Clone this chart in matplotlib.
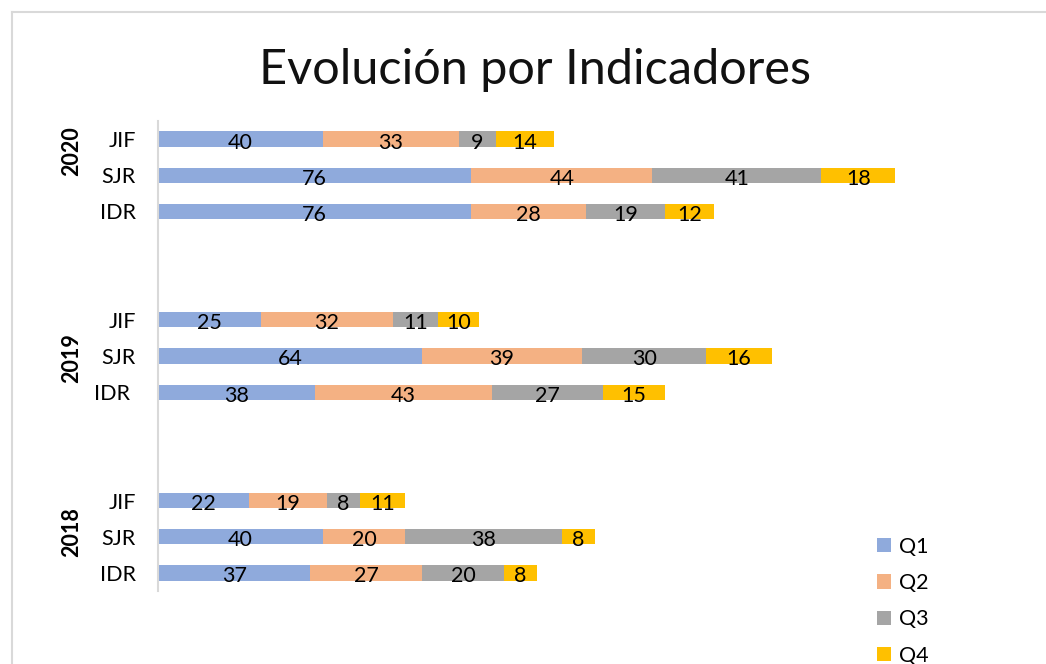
import numpy as np
import matplotlib
import matplotlib.pyplot as plt
from matplotlib.patches import Patch
from matplotlib.lines import Line2D

matplotlib.rcParams['font.family'] = ['Lato', 'DejaVu Sans']

# Data (bottom to top inside each year: IDR, SJR, JIF)
years = ['2018', '2019', '2020']
indicators = ['IDR', 'SJR', 'JIF']
q1 = [37, 40, 22, 38, 64, 25, 76, 76, 40]
q2 = [27, 20, 19, 43, 39, 32, 28, 44, 33]
q3 = [20, 38, 8, 27, 30, 11, 19, 41, 9]
q4 = [8, 8, 11, 15, 16, 10, 12, 18, 14]
series_names = ['Q1', 'Q2', 'Q3', 'Q4']
colors = ['#8FAADC', '#F4B183', '#A5A5A5', '#FFC000']

fig_w, fig_h = 1046, 664
fontsize = 15.5

# slot positions: three rows per year, two empty slots between years
pos = []
labels = []
for g in range(len(years)):
    for i, ind in enumerate(indicators):
        pos.append(g * 5 + i)
        labels.append(ind + (' ' if (years[g] == '2019' and ind == 'IDR') else ''))
pos = np.array(pos)

fig = plt.figure(figsize=(fig_w / 100, fig_h / 100), dpi=100)
fig.patch.set_facecolor('white')

# axes placed in pixel terms
left, right, top, bottom = 158, 982, 121, 591
ax = fig.add_axes([left / fig_w, 1 - bottom / fig_h, (right - left) / fig_w, (bottom - top) / fig_h])
ax.set_xlim(0, 200)
ax.set_ylim(-0.5, 12.5)

data = [q1, q2, q3, q4]
base = np.zeros(len(pos))
for vals, c, name in zip(data, colors, series_names):
    vals = np.array(vals)
    ax.barh(pos, vals, left=base, height=0.42, color=c, label=name)
    for p, b, v in zip(pos, base, vals):
        ax.text(b + v / 2, p - 0.04, str(v), ha='center', va='center_baseline', fontsize=fontsize, color='black')
    base = base + vals

for s in ['top', 'right', 'bottom']:
    ax.spines[s].set_visible(False)
ax.spines['left'].set_color('#d9d9d9')
ax.spines['left'].set_linewidth(1.5)
ax.set_xticks([])
ax.set_yticks(pos)
ax.set_yticklabels(labels, fontsize=fontsize)
ax.tick_params(axis='y', length=0, pad=16)

# year labels
year_y = [1.14, 5.93, 11.66]
for yr, yy in zip(years, year_y):
    ax.text(-86 / 4.12, yy, yr, rotation=90, ha='center', va='center',
            fontsize=fontsize, fontweight='bold', transform=ax.transData, clip_on=False)

# title
fig.text(535 / fig_w, 1 - 70 / fig_h, 'Evolución por Indicadores', ha='center', va='center',
         fontsize=35, color='#111111')

# legend
handles = [Patch(facecolor=c, edgecolor='none') for c in colors]
fig.legend(handles, series_names, loc='upper left', bbox_to_anchor=(868 / fig_w, 1 - 528 / fig_h),
           frameon=False, fontsize=fontsize, handlelength=0.65, handleheight=0.65,
           handletextpad=0.4, labelspacing=0.76, borderaxespad=0)

# chart frame (cropped)
fig.add_artist(Line2D([12 / fig_w, 12 / fig_w], [0, 1 - 12 / fig_h], color='#d9d9d9', lw=1.5))
fig.add_artist(Line2D([12 / fig_w, 1], [1 - 12 / fig_h, 1 - 12 / fig_h], color='#d9d9d9', lw=1.5))

plt.savefig('out.png', dpi=100)
